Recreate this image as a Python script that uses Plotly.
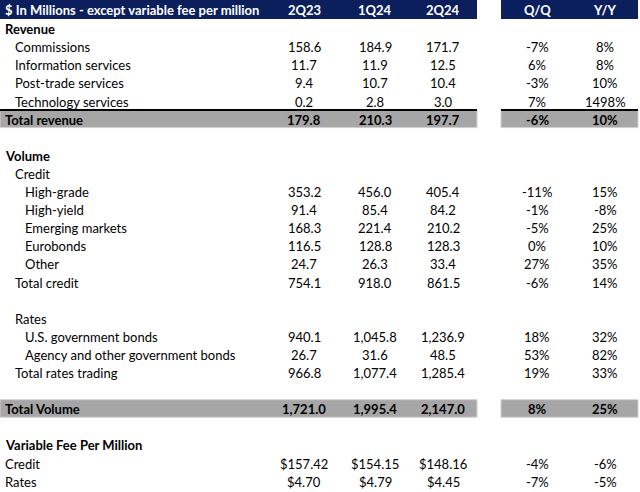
import plotly.graph_objects as go

# Table content
header_label = "$ In Millions - except variable fee per million"
periods = ["2Q23", "1Q24", "2Q24"]
changes = ["Q/Q", "Y/Y"]

row_labels = [
    "Revenue", "Commissions", "Information services", "Post-trade services",
    "Technology services", "Total revenue", "",
    "Volume", "Credit", "High-grade", "High-yield", "Emerging markets",
    "Eurobonds", "Other", "Total credit", "",
    "Rates", "U.S. government bonds", "Agency and other government bonds",
    "Total rates trading", "", "Total Volume", "",
    "Variable Fee Per Million", "Credit", "Rates",
]
row_indent = [0, 1, 1, 1, 1, 0, 0, 0, 1, 2, 2, 2, 2, 2, 1, 0, 1, 2, 2, 1, 0, 0, 0, 0, 0, 0]
row_bold = [1, 0, 0, 0, 0, 1, 0, 1, 0, 0, 0, 0, 0, 0, 0, 0, 0, 0, 0, 0, 0, 1, 0, 1, 0, 0]
row_fmt = ["", "n", "n", "n", "n", "n", "", "", "", "n", "n", "n", "n", "n", "n", "",
           "", "n", "n", "n", "", "n", "", "", "$", "$"]

q2_23 = [None, 158.6, 11.7, 9.4, 0.2, 179.8, None, None, None, 353.2, 91.4, 168.3,
         116.5, 24.7, 754.1, None, None, 940.1, 26.7, 966.8, None, 1721.0, None,
         None, 157.42, 4.70]
q1_24 = [None, 184.9, 11.9, 10.7, 2.8, 210.3, None, None, None, 456.0, 85.4, 221.4,
         128.8, 26.3, 918.0, None, None, 1045.8, 31.6, 1077.4, None, 1995.4, None,
         None, 154.15, 4.79]
q2_24 = [None, 171.7, 12.5, 10.4, 3.0, 197.7, None, None, None, 405.4, 84.2, 210.2,
         128.3, 33.4, 861.5, None, None, 1236.9, 48.5, 1285.4, None, 2147.0, None,
         None, 148.16, 4.45]
qq_pct = [None, -7, 6, -3, 7, -6, None, None, None, -11, -1, -5, 0, 27, -6, None,
          None, 18, 53, 19, None, 8, None, None, -4, -7]
yy_pct = [None, 8, 8, 10, 1498, 10, None, None, None, 15, -8, 25, 10, 35, 14, None,
          None, 32, 82, 33, None, 25, None, None, -6, -5]

band_rows = ["Total revenue", "Total Volume"]

NAVY = "#0b1f5c"
GREY = "#a6a6a6"
FONT = "Lato"
FS = 13

# layout geometry (pixels)
Y0, PITCH = 11, 18.1
col_x = [304, 375, 443]
chg_x = [537, 605]
left_band = (0, 477)
right_band = (501, 638)


def row_y(i):
    return Y0 + PITCH * (i + 1)


def fmt_val(v, kind):
    if v is None:
        return ""
    if kind == "$":
        return f"${v:,.2f}"
    return f"{v:,.1f}"


fig = go.Figure()
shapes = []
ann = []

# header bands
for x0, x1 in (left_band, right_band):
    shapes.append(dict(type="rect", x0=x0, x1=x1, y0=0, y1=19,
                       fillcolor=NAVY, line_width=0, layer="below"))

ann.append(dict(x=3, y=10, text=f"<b>{header_label}</b>", xanchor="left"))
for x, t in zip(col_x + chg_x, periods + changes):
    ann.append(dict(x=x, y=10, text=f"<b>{t}</b>", xanchor="center"))
for a in ann:
    a["font"] = dict(color="white", family=FONT, size=FS)

# grey total bands
for i, lab in enumerate(row_labels):
    if lab in band_rows:
        yc = row_y(i)
        top, bot = yc - 9.5, yc + 8
        for x0, x1 in (left_band, right_band):
            shapes.append(dict(type="rect", x0=x0, x1=x1, y0=top, y1=bot,
                               fillcolor=GREY, layer="below",
                               line=dict(color="#d0d0d0", width=1)))
            if lab == "Total revenue":
                shapes.append(dict(type="line", x0=x0, x1=x1, y0=top, y1=top,
                                   line=dict(color="black", width=2)))

# table body
for i, lab in enumerate(row_labels):
    y = row_y(i)
    b = row_bold[i]

    def t(s):
        return f"<b>{s}</b>" if b else s

    if lab:
        ann.append(dict(x=3 + 10 * row_indent[i], y=y, text=t(lab), xanchor="left",
                        font=dict(color="black", family=FONT, size=FS)))
    for x, series in zip(col_x, (q2_23, q1_24, q2_24)):
        if series[i] is not None:
            ann.append(dict(x=x, y=y, text=t(fmt_val(series[i], row_fmt[i])),
                            xanchor="center",
                            font=dict(color="black", family=FONT, size=FS)))
    for x, series in zip(chg_x, (qq_pct, yy_pct)):
        if series[i] is not None:
            ann.append(dict(x=x, y=y, text=t(f"{series[i]}%"), xanchor="center",
                            font=dict(color="black", family=FONT, size=FS)))

for a in ann:
    a.update(xref="x", yref="y", yanchor="middle", showarrow=False)

fig.update_layout(
    width=640, height=492,
    margin=dict(l=0, r=0, t=0, b=0),
    paper_bgcolor="white", plot_bgcolor="white",
    xaxis=dict(range=[0, 640], visible=False, fixedrange=True),
    yaxis=dict(range=[492, 0], visible=False, fixedrange=True),
    shapes=shapes, annotations=ann,
    showlegend=False,
)

# drop the browser's default page margin so the table sits flush at the corner
fig.write_html("out.html", config={"displayModeBar": False},
               post_script="document.body.style.margin='0';document.body.style.overflow='hidden';")
